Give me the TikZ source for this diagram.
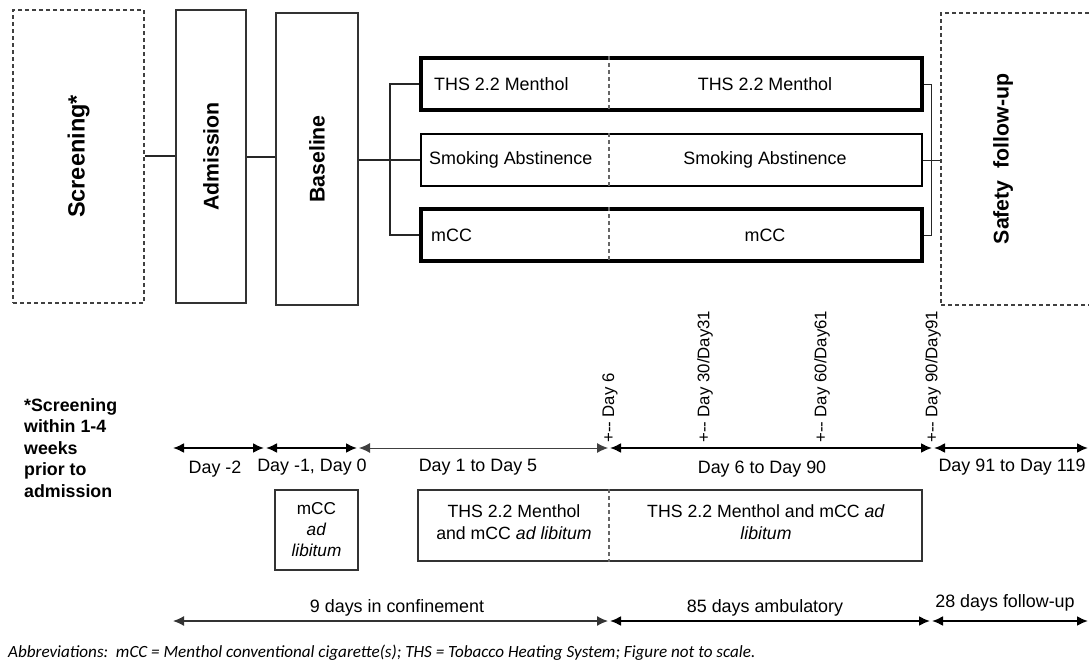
\documentclass[tikz,border=0pt]{standalone}
\usepackage{fontspec}
\setmainfont{Liberation Sans}
\newfontfamily\abbrfont{Carlito}
\usetikzlibrary{arrows.meta,calc}
\tikzset{
  box/.style={draw=black!80, line width=1.3pt, inner sep=0pt},
  dbox/.style={draw=black!75, line width=1.1pt, dash pattern=on 4pt off 3pt, inner sep=0pt},
  armthick/.style={draw=black, line width=3.2pt, inner sep=0pt},
  armthin/.style={draw=black, line width=1.1pt, inner sep=0pt},
  conn/.style={draw=black!85, line width=1.1pt},
  divider/.style={draw=black!60, line width=1.1pt, dash pattern=on 4pt off 3pt},
  vtitle/.style={font=\fontsize{21.3}{24}\selectfont\bfseries, rotate=90},
  lbl/.style={font=\fontsize{17.9}{21}\selectfont, inner sep=0pt},
  tick/.style={font=\fontsize{16.8}{20}\selectfont, rotate=90, anchor=west, inner sep=0pt},
  tl/.style={line width=2pt, {Latex[length=11pt,width=10pt]}-{Latex[length=11pt,width=10pt]}, shorten <=1pt, shorten >=1pt},
  tlthin/.style={tl, line width=0.9pt, draw=black!75},
}
\begin{document}
\begin{tikzpicture}[x=1pt,y=-1pt]
\useasboundingbox (0,0) rectangle (1089,664);

% top row boxes
\node[dbox, minimum width=131pt, minimum height=293pt] (scr) at (78.5,156.5) {};
\node[vtitle, font=\fontsize{23.5}{26}\selectfont\bfseries] at (scr.center) {Screening*};
\node[box, minimum width=70pt, minimum height=293pt] (adm) at (211,156.5) {};
\node[vtitle] at (adm.center) {Admission};
\node[box, minimum width=82pt, minimum height=292pt] (base) at (317,159) {};
\node[vtitle] at (base.center) {Baseline};
\node[dbox, minimum width=159pt, minimum height=292pt] (saf) at (1020.5,159) {};
\node[vtitle] at (1003,159) {Safety~~follow-up};

% arms
\node[armthick, minimum width=501pt, minimum height=52pt] (ths) at (671.5,84) {};
\node[armthin, minimum width=501pt, minimum height=52pt] (smk) at (671.5,160) {};
\node[armthick, minimum width=501pt, minimum height=52pt] (mcc) at (671.5,235) {};
\coordinate (dv) at (609,0);
\draw[divider] (ths.north -| dv) -- (ths.south -| dv);
\draw[divider] (smk.north -| dv) -- (smk.south -| dv);
\draw[divider] (mcc.north -| dv) -- (mcc.south -| dv);
\node[lbl, anchor=west] (ths1) at (434,84) {THS 2.2 Menthol};
\node[lbl] (ths2) at (765,84) {THS 2.2 Menthol};
\node[lbl, anchor=west] (smk1) at (429,160) {Smoking Abstinence};
\node[lbl] (smk2) at (765,160) {Smoking Abstinence};
\node[lbl, anchor=west] (mcc1) at (431,235) {mCC};
\node[lbl] (mcc2) at (765,235) {mCC};

% connectors
\draw[conn] (scr.east |- 0,156) -- (adm.west |- 0,156);
\draw[conn] (adm.east |- 0,157) -- (base.west |- 0,157);
\coordinate (lb) at (390,0);
\draw[conn] (base.east |- smk.west) -- (smk.west);
\draw[conn] (ths.west) -| (lb |- smk.west) |- (mcc.west);
\coordinate (rb) at (931,0);
\draw[conn, line width=0.9pt] (ths.east) -| (rb |- mcc.east) -- (mcc.east);
\draw[conn, line width=0.9pt] (smk.east) -- (saf.west |- smk.east);

% note
\node[anchor=north west, align=left, inner sep=0pt, font=\fontsize{17.8}{21.5}\selectfont\bfseries] (note) at (24,398)
  {*Screening\\within 1-4\\weeks\\prior to\\admission};

% timeline
\coordinate (t0) at (172,448);
\coordinate (t1) at (265,448);
\coordinate (t2) at (358,448);
\coordinate (t3) at (609,448);
\coordinate (t4) at (933,448);
\coordinate (t5) at (1089,448);
\draw[tl] (t0) -- (t1);
\draw[tl] (t1) -- (t2);
\draw[tlthin] (t2) -- (t3);
\draw[tl] (t3) -- (t4);
\draw[tl] (t4) -- (t5);
\node[lbl] (l1) at (215,469) {Day -2};
\node[lbl] (l2) at (312,467) {Day -1, Day 0};
\node[lbl] (l3) at (478,467) {Day 1 to Day 5};
\node[lbl] (l4) at (762,469) {Day 6 to Day 90};
\node[lbl] (l5) at (1012,467) {Day 91 to Day 119};

\node[tick] (k1) at (610,443) {+-{}- Day 6};
\node[tick] (k2) at (705,443) {+-{}- Day 30/Day31};
\node[tick] (k3) at (822,443) {+-{}- Day 60/Day61};
\node[tick] (k4) at (933,443) {+-{}- Day 90/Day91};

% lower boxes
\node[box, line width=1.1pt, minimum width=83pt, minimum height=80pt] (mccad) at (316.5,530) {};
\node[lbl, align=center, font=\fontsize{17.2}{21}\selectfont] at (mccad.center) {mCC\\\textit{ad}\\\textit{libitum}};
\node[box, line width=1.1pt, minimum width=504pt, minimum height=71pt] (thsad) at (670,525.5) {};
\draw[divider] (thsad.north -| dv) -- (thsad.south -| dv);
\node[lbl, align=center, font=\fontsize{17.7}{22}\selectfont] (ta1) at (514,522) {THS 2.2 Menthol\\and mCC \textit{ad libitum}};
\node[lbl, align=center, font=\fontsize{17.7}{22}\selectfont] (ta2) at (766,522) {THS 2.2 Menthol and mCC \textit{ad}\\\textit{libitum}};

% bottom arrows
\coordinate (b0) at (172,621);
\coordinate (b1) at (609,621);
\coordinate (b2) at (931,621);
\coordinate (b3) at (1089,621);
\draw[tl, line width=1.3pt, draw=black!80] (b0) -- (b1);
\draw[tl] (b1) -- (b2);
\draw[tl] (b2) -- (b3);
\node[lbl] (c1) at (397,608) {9 days in confinement};
\node[lbl] (c2) at (765,608) {85 days ambulatory};
\node[lbl] (c3) at (1005,603) {28 days follow-up};

% abbreviations
\node[anchor=west, inner sep=0pt, font=\abbrfont\itshape\fontsize{17.1}{19}\selectfont] (abbr) at (8,653)
  {Abbreviations:\ \ mCC = Menthol conventional cigarette(s); THS = Tobacco Heating System; Figure not to scale.};
\end{tikzpicture}
\end{document}
